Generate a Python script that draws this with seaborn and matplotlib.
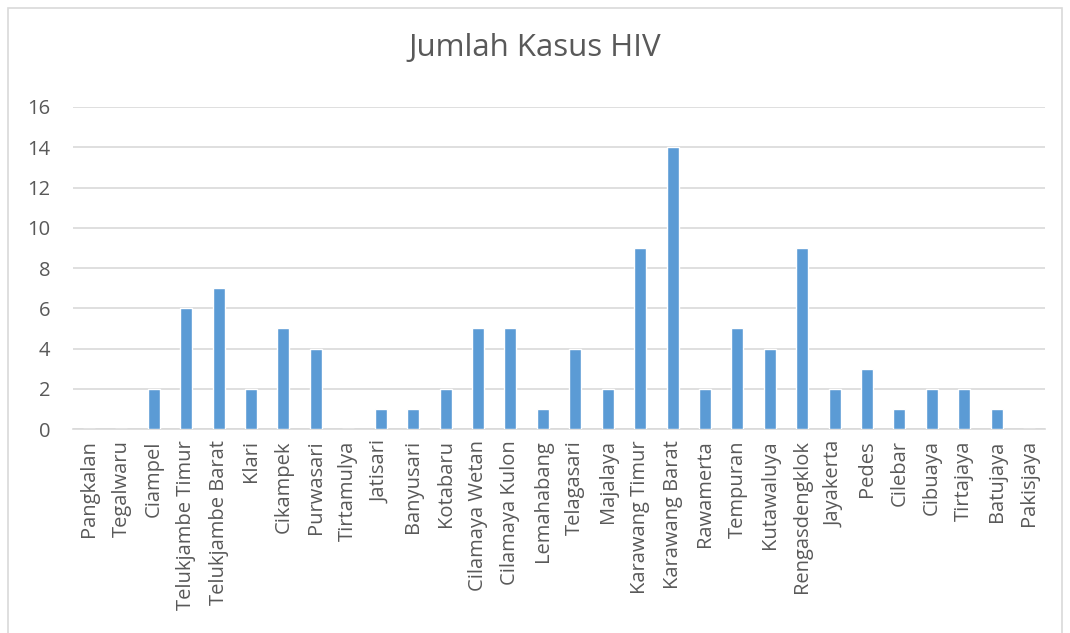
import pandas as pd
import seaborn as sns
import matplotlib.pyplot as plt
from matplotlib.patches import Rectangle

kecamatan = ["Pangkalan", "Tegalwaru", "Ciampel", "Telukjambe Timur", "Telukjambe Barat",
             "Klari", "Cikampek", "Purwasari", "Tirtamulya", "Jatisari", "Banyusari",
             "Kotabaru", "Cilamaya Wetan", "Cilamaya Kulon", "Lemahabang", "Telagasari",
             "Majalaya", "Karawang Timur", "Karawang Barat", "Rawamerta", "Tempuran",
             "Kutawaluya", "Rengasdengklok", "Jayakerta", "Pedes", "Cilebar", "Cibuaya",
             "Tirtajaya", "Batujaya", "Pakisjaya"]
kasus = [0, 0, 2, 6, 7, 2, 5, 4, 0, 1, 1, 2, 5, 5, 1, 4, 2, 9, 14, 2, 5, 4, 9, 2, 3, 1, 2, 2, 1, 0]

df = pd.DataFrame({"kecamatan": kecamatan, "kasus": kasus})

sns.set_theme(style="white")
plt.rcParams['font.family'] = ['Open Sans', 'DejaVu Sans']

fig = plt.figure(figsize=(10.7, 6.33), dpi=100)
ax = fig.add_axes([0.068, 0.322, 0.909, 0.509])

sns.barplot(data=df, x="kecamatan", y="kasus", color="#5b9bd5", width=0.37,
            saturation=1, ax=ax, zorder=3)

ax.set_ylim(0, 16)
ax.set_yticks(range(0, 17, 2))
ax.yaxis.grid(True, color="#d9d9d9", linewidth=1.2, zorder=0)
ax.set_axisbelow(True)
for s in ["top", "right", "left"]:
    ax.spines[s].set_visible(False)
ax.spines["bottom"].set_color("#d9d9d9")
ax.spines["bottom"].set_linewidth(1.2)
ax.set_xlabel("")
ax.set_ylabel("")
ax.tick_params(axis="both", length=0, labelsize=14.5, colors="#595959")
ax.tick_params(axis="x", pad=8)
ax.tick_params(axis="y", pad=16)
plt.setp(ax.get_xticklabels(), rotation=90)
ax.set_xlim(-0.5, len(kecamatan) - 0.5)

fig.suptitle("Jumlah Kasus HIV", fontsize=22.5, color="#595959", y=0.948)

fig.patches.append(Rectangle((8 / 1070, -0.01), 1054 / 1070, 1 - 8 / 633 + 0.01,
                             transform=fig.transFigure, fill=False,
                             edgecolor="#d9d9d9", linewidth=1.2))

fig.savefig("out.png", dpi=100)
